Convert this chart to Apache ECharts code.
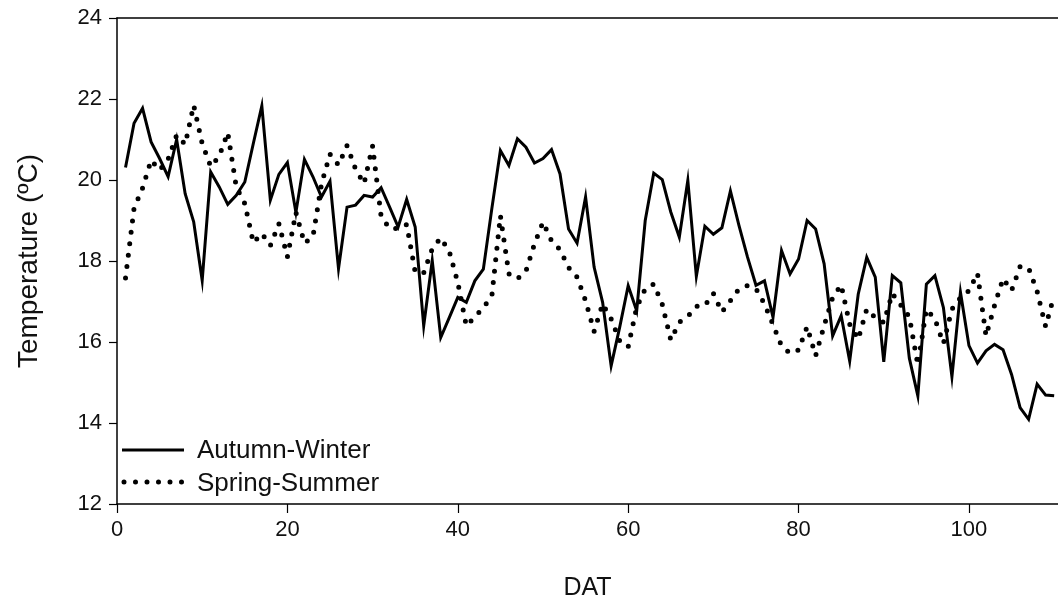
<!DOCTYPE html>
<html>
<head>
<meta charset="utf-8">
<script src="https://cdn.jsdelivr.net/npm/echarts@6/dist/echarts.min.js"></script>
<style>
html,body{margin:0;padding:0;background:#fff;}
#chart{width:1058px;height:613px;}
</style>
</head>
<body>
<div id="chart"></div>
<script>
// Day after transplant starts at 1, one value per day
const FIRST_DAY = 1;
const X_TICKS = [0, 20, 40, 60, 80, 100];
const Y_TICKS = [12, 14, 16, 18, 20, 22, 24];
const SERIES_NAMES = ['Autumn-Winter', 'Spring-Summer'];

const autumnWinter = [
  20.31,21.40,21.77,20.94,20.53,20.08,21.00,19.66,18.97,17.52,
  20.20,19.83,19.40,19.62,19.95,20.90,21.83,19.50,20.14,20.43,
  19.20,20.51,20.08,19.58,19.97,17.81,19.33,19.38,19.62,19.58,
  19.81,19.33,18.84,19.52,18.84,16.40,18.01,16.11,16.60,17.10,
  16.98,17.51,17.80,19.30,20.73,20.36,21.02,20.81,20.42,20.53,
  20.75,20.15,18.79,18.44,19.58,17.85,16.98,15.41,16.36,17.39,
  16.77,19.00,20.17,20.01,19.21,18.59,19.99,17.62,18.86,18.66,
  18.82,19.73,18.88,18.10,17.40,17.51,16.61,18.26,17.68,18.05,
  19.00,18.79,17.93,16.15,16.65,15.53,17.18,18.09,17.60,15.51,
  17.64,17.46,15.60,14.67,17.43,17.64,16.85,15.14,17.23,15.91,
  15.48,15.78,15.94,15.81,15.20,14.38,14.09,14.96,14.69,14.67
];

const springSummer = [
  17.58,19.30,19.80,20.49,20.24,20.51,21.11,20.88,21.85,20.90,
  20.33,20.59,21.17,19.83,19.42,18.45,18.68,18.38,18.92,18.10,
  19.20,18.44,18.60,19.90,20.64,20.37,20.85,20.27,19.91,20.84,
  19.10,18.80,18.80,18.90,17.73,17.71,18.30,18.57,18.24,17.47,
  16.40,16.62,16.85,17.14,19.12,17.68,17.56,17.75,18.42,18.96,
  18.50,18.28,17.84,17.60,17.02,16.26,16.94,16.57,16.03,15.88,
  16.86,17.31,17.43,16.93,16.05,16.49,16.63,16.88,16.90,17.20,
  16.74,17.02,17.31,17.39,17.32,16.94,16.43,15.90,15.72,15.80,
  16.38,15.66,16.40,17.10,17.41,16.44,16.07,16.81,16.60,16.48,
  17.20,16.91,16.62,15.43,16.81,16.57,15.96,16.81,17.09,17.27,
  17.70,16.15,16.90,17.57,17.27,17.86,17.83,17.25,16.38,17.16
];

function toPoints(vals){ return vals.map((v,i)=>[FIRST_DAY+i, v]); }

const FONT = 'Liberation Sans, Arial, sans-serif';
const SOLID = {color:'#000', width:3, join:'miter'};
const DOTTED = {color:'#000', width:5, type:[0, 11.5], cap:'round'};

const chart = echarts.init(document.getElementById('chart'), null, {renderer:'canvas'});
chart.setOption({
  animation:false,
  backgroundColor:'#ffffff',
  grid:{left:117, right:0, top:18, bottom:109, containLabel:false},
  xAxis:[{
    type:'value', min:0, max:110.45, interval:20,
    name:'DAT', nameLocation:'middle', nameGap:72,
    nameTextStyle:{fontSize:25, color:'#111', fontFamily:FONT},
    axisLine:{show:true, lineStyle:{color:'#000', width:1.5}},
    axisTick:{show:true, length:9, customValues:X_TICKS, lineStyle:{color:'#000', width:1.2}},
    axisLabel:{show:true, customValues:X_TICKS, margin:15, fontSize:22, color:'#111', fontFamily:FONT},
    splitLine:{show:false}
  },{
    type:'value', position:'top', min:0, max:110.45,
    axisLine:{show:true, lineStyle:{color:'#000', width:1.5}},
    axisTick:{show:false}, axisLabel:{show:false}, splitLine:{show:false}
  }],
  yAxis:{
    type:'value', min:12, max:24, interval:2,
    name:'Temperature (ºC)', nameLocation:'middle', nameGap:74,
    nameTextStyle:{fontSize:28, color:'#111', fontFamily:FONT},
    axisLine:{show:true, lineStyle:{color:'#000', width:1.5}},
    axisTick:{show:true, length:8, customValues:Y_TICKS, lineStyle:{color:'#000', width:1.2}},
    axisLabel:{show:true, customValues:Y_TICKS, margin:15, fontSize:22, color:'#111', fontFamily:FONT},
    splitLine:{show:false}
  },
  graphic:[
    {type:'line', shape:{x1:122, y1:450, x2:184, y2:450}, style:{stroke:'#000', lineWidth:3}},
    {type:'text', left:197, top:438, style:{text:SERIES_NAMES[0], fontSize:26, fill:'#111', fontFamily:FONT}},
    {type:'line', shape:{x1:124, y1:482, x2:184, y2:482}, style:{stroke:'#000', lineWidth:5, lineDash:[0, 11.5], lineCap:'round'}},
    {type:'text', left:197, top:471, style:{text:SERIES_NAMES[1], fontSize:26, fill:'#111', fontFamily:FONT}}
  ],
  series:[{
    name:SERIES_NAMES[0], type:'line', data:toPoints(autumnWinter),
    symbol:'none', showSymbol:false, lineStyle:SOLID
  },{
    name:SERIES_NAMES[1], type:'line', data:toPoints(springSummer),
    symbol:'none', showSymbol:false, lineStyle:DOTTED
  }]
});
</script>
</body>
</html>
